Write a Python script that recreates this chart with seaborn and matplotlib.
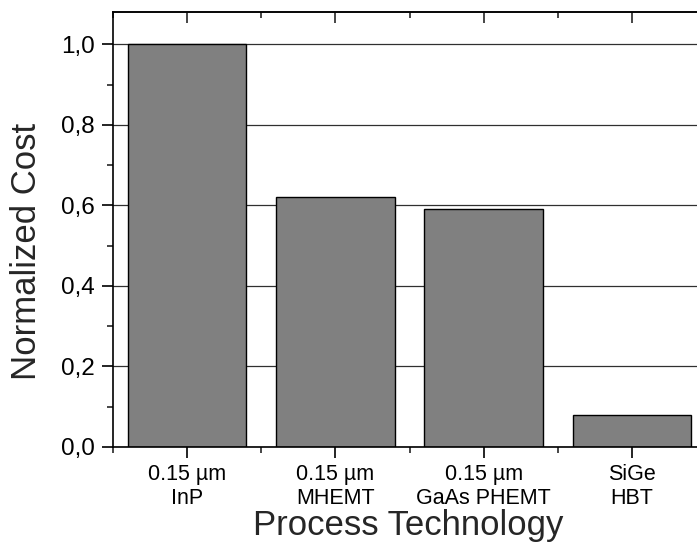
import matplotlib
matplotlib.use("Agg")
import matplotlib.pyplot as plt
import seaborn as sns
import pandas as pd
from matplotlib.ticker import FixedLocator, FuncFormatter, MultipleLocator

categories = ["0.15 µm\nInP", "0.15 µm\nMHEMT", "0.15 µm\nGaAs PHEMT", "SiGe\nHBT"]
costs = [1.00, 0.62, 0.59, 0.08]
y_ticks = [0.0, 0.2, 0.4, 0.6, 0.8, 1.0]

sns.set_style("ticks")
plt.rcParams["font.family"] = ["Liberation Sans", "DejaVu Sans"]

df = pd.DataFrame({"tech": categories, "cost": costs})

W, H = 697, 543
fig = plt.figure(figsize=(W / 100, H / 100), dpi=100)
ax = fig.add_axes([113 / W, 96 / H, 593 / W, 435 / H])

ax.yaxis.grid(True, color="#303030", linewidth=0.9, zorder=0)
ax.set_axisbelow(True)

sns.barplot(data=df, x="tech", y="cost", color="#808080", saturation=1,
            edgecolor="black", linewidth=1.0, width=0.8, ax=ax, zorder=2)

ax.set_xlim(-0.5, 3.5)
ax.set_ylim(0, 1.08)
ax.set_yticks(y_ticks)
ax.yaxis.set_minor_locator(MultipleLocator(0.1))
ax.yaxis.set_major_formatter(FuncFormatter(lambda v, p: f"{v:.1f}".replace(".", ",")))
ax.xaxis.set_minor_locator(FixedLocator([-0.5, 0.5, 1.5, 2.5, 3.5]))

ax.set_xlabel("")
ax.set_ylabel("")

for s in ax.spines.values():
    s.set_linewidth(1.2)
    s.set_color("black")

ax.tick_params(axis="y", which="major", direction="out", length=8, width=1.2,
               labelsize=17.5, pad=5, colors="black")
ax.tick_params(axis="y", which="minor", direction="out", length=4, width=1.2)
ax.tick_params(axis="x", which="major", direction="out", length=8, width=1.2,
               labelsize=15.5, pad=4, colors="black")
ax.tick_params(axis="x", which="minor", direction="out", length=4, width=1.2)

sec = ax.secondary_xaxis("top")
sec.set_xticks([0, 1, 2, 3])
sec.xaxis.set_minor_locator(FixedLocator([-0.5, 0.5, 1.5, 2.5, 3.5]))
sec.tick_params(axis="x", which="major", direction="in", length=8, width=1.2, labeltop=False)
sec.tick_params(axis="x", which="minor", direction="in", length=4, width=1.2)
sec.spines["top"].set_linewidth(1.2)

fig.text(26.5 / W, 1 - 251 / H, "Normalized Cost", rotation=90,
         ha="center", va="center", fontsize=25)
fig.text(408 / W, 1 - 535 / H, "Process Technology", ha="center",
         va="baseline", fontsize=25)

fig.savefig("out.png", dpi=100)
